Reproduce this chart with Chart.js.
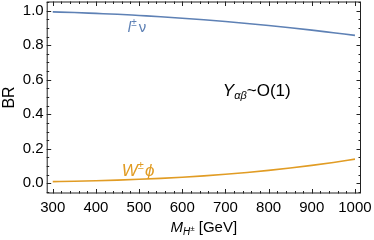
<!DOCTYPE html>
<html><head><meta charset="utf-8">
<script src="https://cdn.jsdelivr.net/npm/chart.js@4"></script>
<style>html,body{margin:0;padding:0;background:#fff}canvas{display:block}</style>
</head><body>
<canvas id="c" width="374" height="240"></canvas>
<script>
const masses = [300,350,400,450,500,550,600,650,700,750,800,850,900,950,1000];
const brLnu  = [0.993,0.989,0.984,0.979,0.972,0.965,0.956,0.947,0.937,0.926,0.914,0.901,0.887,0.872,0.857];
const brWphi = [0.010,0.0121,0.015,0.0186,0.0231,0.0286,0.0353,0.0431,0.0522,0.0628,0.0748,0.0884,0.1038,0.1209,0.140];
const xTickValues = [300,400,500,600,700,800,900,1000];
const xTickLabels = ["300","400","500","600","700","800","900","1000"];
const yTickValues = [0,0.2,0.4,0.6,0.8,1.0];
const yTickLabels = ["0.0","0.2","0.4","0.6","0.8","1.0"];

const BLUE = 'rgb(94,129,181)';
const ORANGE = 'rgb(225,156,36)';
const FONT = '"Liberation Sans", Arial, sans-serif';

function drawRich(ctx, x, y, parts, color) {
  ctx.save();
  ctx.fillStyle = color;
  ctx.textBaseline = 'alphabetic';
  ctx.textAlign = 'left';
  let cx = x;
  for (const p of parts) {
    ctx.font = (p.italic ? 'italic ' : '') + p.size + 'px ' + FONT;
    ctx.fillText(p.t, cx, y + (p.dy || 0));
    cx += ctx.measureText(p.t).width + (p.gap || 0);
  }
  ctx.restore();
  return cx - x;
}
function richWidth(ctx, parts) {
  let w = 0;
  ctx.save();
  for (const p of parts) {
    ctx.font = (p.italic ? 'italic ' : '') + p.size + 'px ' + FONT;
    w += ctx.measureText(p.t).width + (p.gap || 0);
  }
  ctx.restore();
  return w;
}

const framePlugin = {
  id: 'frame',
  afterDraw(chart) {
    const {ctx, chartArea: a, scales: {x, y}} = chart;
    ctx.save();
    ctx.strokeStyle = '#222';
    ctx.lineWidth = 1;
    ctx.strokeRect(a.left + 0.5, a.top + 0.5, a.right - a.left - 1, a.bottom - a.top - 1);
    ctx.beginPath();
    const maj = 4.5, min = 2.5;
    for (let v = 200; v <= 1100; v += 20) {
      if (v < x.min || v > x.max) continue;
      const px = Math.round(x.getPixelForValue(v)) + 0.5;
      const L = (v % 100 === 0) ? maj : min;
      ctx.moveTo(px, a.bottom); ctx.lineTo(px, a.bottom - L);
      ctx.moveTo(px, a.top); ctx.lineTo(px, a.top + L);
    }
    for (let i = -2; i <= 22; i++) {
      const v = i * 0.05;
      if (v < y.min || v > y.max) continue;
      const py = Math.round(y.getPixelForValue(v)) + 0.5;
      const L = (i % 4 === 0) ? maj : min;
      ctx.moveTo(a.left, py); ctx.lineTo(a.left + L, py);
      ctx.moveTo(a.right, py); ctx.lineTo(a.right - L, py);
    }
    ctx.stroke();
    ctx.restore();

    // annotations
    drawRich(ctx, x.getPixelForValue(474), y.getPixelForValue(0.877), [
      {t:'l', italic:true, size:15},
      {t:'\u00b1', size:10, dy:-6, gap:2},
      {t:'\u03bd', size:15}
    ], BLUE);
    drawRich(ctx, x.getPixelForValue(460), y.getPixelForValue(0.042), [
      {t:'W', italic:true, size:17},
      {t:'\u00b1', size:11, dy:-7, gap:1},
      {t:'\u03d5', italic:true, size:17}
    ], ORANGE);
    drawRich(ctx, x.getPixelForValue(694), y.getPixelForValue(0.503), [
      {t:'Y', italic:true, size:17},
      {t:'\u03b1\u03b2', italic:true, size:11, dy:3},
      {t:'~O(1)', size:17}
    ], '#000');

    // x-axis title
    const tParts = [
      {t:'M', italic:true, size:15},
      {t:'H', italic:true, size:10, dy:3},
      {t:'\u00b1', size:8, dy:-1, gap:4},
      {t:'[GeV]', size:15}
    ];
    const w = richWidth(ctx, tParts);
    drawRich(ctx, (a.left + a.right) / 2 - w / 2, 231.5, tParts, '#000');
  }
};

new Chart(document.getElementById('c'), {
  type: 'line',
  data: {
    datasets: [
      {label: 'lnu', data: masses.map((m, i) => ({x: m, y: brLnu[i]})), borderColor: BLUE, borderWidth: 1.6, pointRadius: 0, cubicInterpolationMode: 'monotone', fill: false},
      {label: 'Wphi', data: masses.map((m, i) => ({x: m, y: brWphi[i]})), borderColor: ORANGE, borderWidth: 1.6, pointRadius: 0, cubicInterpolationMode: 'monotone', fill: false}
    ]
  },
  options: {
    responsive: false,
    devicePixelRatio: 1,
    animation: false,
    layout: {padding: {left: 0, right: 13, top: 1.5, bottom: 0}},
    plugins: {legend: {display: false}, tooltip: {enabled: false}},
    scales: {
      x: {
        type: 'linear', min: 286, max: 1014,
        grid: {display: false, drawTicks: false},
        border: {display: false},
        afterBuildTicks: s => { s.ticks = xTickValues.map(v => ({value: v})); },
        afterFit: s => { s.height = 46.5; s.paddingLeft = 0; s.paddingRight = 0; },
        ticks: {callback: (v, i) => xTickLabels[i], color: '#000', font: {family: FONT, size: 15}, padding: 5, maxRotation: 0, autoSkip: false}
      },
      y: {
        type: 'linear', min: -0.059, max: 1.053,
        grid: {display: false, drawTicks: false},
        border: {display: false},
        afterBuildTicks: s => { s.ticks = yTickValues.map(v => ({value: v})); },
        afterFit: s => { s.width = 46.7; s.paddingTop = 0; s.paddingBottom = 0; },
        ticks: {callback: (v, i) => yTickLabels[i], color: '#000', font: {family: FONT, size: 15}, padding: 3},
        title: {display: true, text: 'BR', color: '#000', font: {family: FONT, size: 16}, padding: {top: 0, bottom: 0}}
      }
    }
  },
  plugins: [framePlugin]
});
</script>
</body></html>
